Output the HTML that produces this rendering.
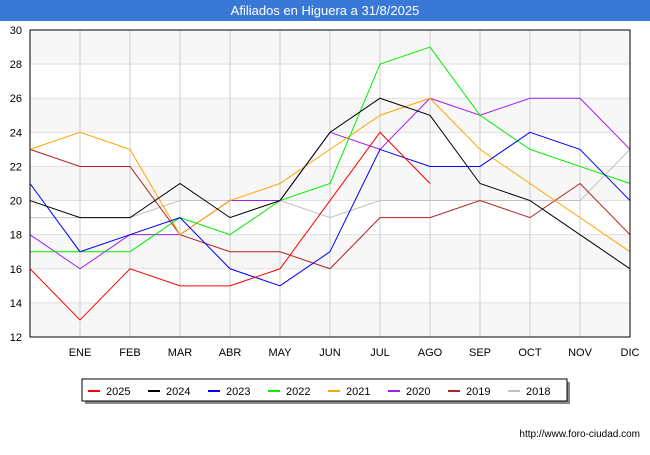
<!DOCTYPE html>
<html><head><meta charset="utf-8"><style>
body{margin:0;background:#fff;font-family:"Liberation Sans",sans-serif}
</style></head><body>
<svg id="c" width="650" height="450" xmlns="http://www.w3.org/2000/svg" font-family="Liberation Sans, sans-serif">
<rect x="0" y="0" width="650" height="450" fill="#fff"/>
<rect x="0" y="0" width="650" height="21" fill="#3a78d8"/>
<text x="325" y="15" text-anchor="middle" font-size="13" fill="#fff">Afiliados en Higuera a 31/8/2025</text>
<g id="bands"></g><g id="grid"></g><g id="lines"></g>
<rect x="30" y="30" width="600" height="307" fill="none" stroke="#000" stroke-width="1"/>
<g id="axes" font-size="11" fill="#000"></g>
<g id="legend"></g>
<text x="640" y="437" text-anchor="end" font-size="10" fill="#000">http://www.foro-ciudad.com</text>
</svg>
<script>
const months=["","ENE","FEB","MAR","ABR","MAY","JUN","JUL","AGO","SEP","OCT","NOV","DIC"];
const yTicks=[12,14,16,18,20,22,24,26,28,30];
const seriesNames=["2025","2024","2023","2022","2021","2020","2019","2018"];
const seriesColors=["#ff0000","#000000","#0000ff","#00ee00","#ffa500","#a020f0","#b22222","#c0c0c0"];
const s2025=[16,13,16,15,15,16,20,24,21];
const s2024=[20,19,19,21,19,20,24,26,25,21,20,18,16];
const s2023=[21,17,18,19,16,15,17,23,22,22,24,23,20];
const s2022=[17,17,17,19,18,20,21,28,29,25,23,22,21];
const s2021=[23,24,23,18,20,21,23,25,26,23,21,19,17];
const s2020=[18,16,18,18,20,20,24,23,26,25,26,26,23];
const s2019=[23,22,22,18,17,17,16,19,19,20,19,21,18];
const s2018=[19,19,19,20,20,20,19,20,20,20,20,20,23];
const allSeries=[s2025,s2024,s2023,s2022,s2021,s2020,s2019,s2018];
const NS="http://www.w3.org/2000/svg";
const X=i=>30+i*50, Y=v=>337-(v-12)*(307/18);
function mk(t,a,p){const e=document.createElementNS(NS,t);for(const k in a)e.setAttribute(k,a[k]);p.appendChild(e);return e;}
const bands=document.getElementById('bands'),grid=document.getElementById('grid'),axes=document.getElementById('axes'),lines=document.getElementById('lines'),legend=document.getElementById('legend');
for(let i=0;i<yTicks.length-1;i+=2){const b=mk('rect',{x:30,y:Y(yTicks[i+1]),width:600,height:Y(yTicks[i])-Y(yTicks[i+1]),fill:'#f7f7f7'},bands);

}
yTicks.forEach(v=>{const l=mk('line',{x1:30,x2:630,y1:Y(v),y2:Y(v),stroke:'#e0e0e0'},grid);


const t=mk('text',{x:22,y:Y(v)+4,'text-anchor':'end'},axes);t.textContent=v;

});
months.forEach((m,i)=>{const l=mk('line',{x1:X(i),x2:X(i),y1:30,y2:337,stroke:'#cccccc'},grid);


if(m){const t=mk('text',{x:X(i),y:356,'text-anchor':'middle'},axes);t.textContent=m;

}});
for(let s=allSeries.length-1;s>=0;s--){const d=allSeries[s].map((v,i)=>X(i)+','+Y(v)).join(' ');
const p=mk('polyline',{points:d,fill:'none',stroke:seriesColors[s],'stroke-width':1},lines);

}
const sh=mk('rect',{x:85,y:382,width:485,height:22,fill:'#888'},legend);


const box=mk('rect',{x:82,y:379,width:485,height:22,fill:'#fff',stroke:'#000'},legend);


seriesNames.forEach((n,i)=>{const x0=88+i*60;
const g=mk('g',{},legend);


mk('line',{x1:x0,x2:x0+12,y1:391,y2:391,stroke:seriesColors[i],'stroke-width':2},g);
const t=mk('text',{x:x0+18,y:395,'font-size':11},g);t.textContent=n;});
</script>
</body></html>
